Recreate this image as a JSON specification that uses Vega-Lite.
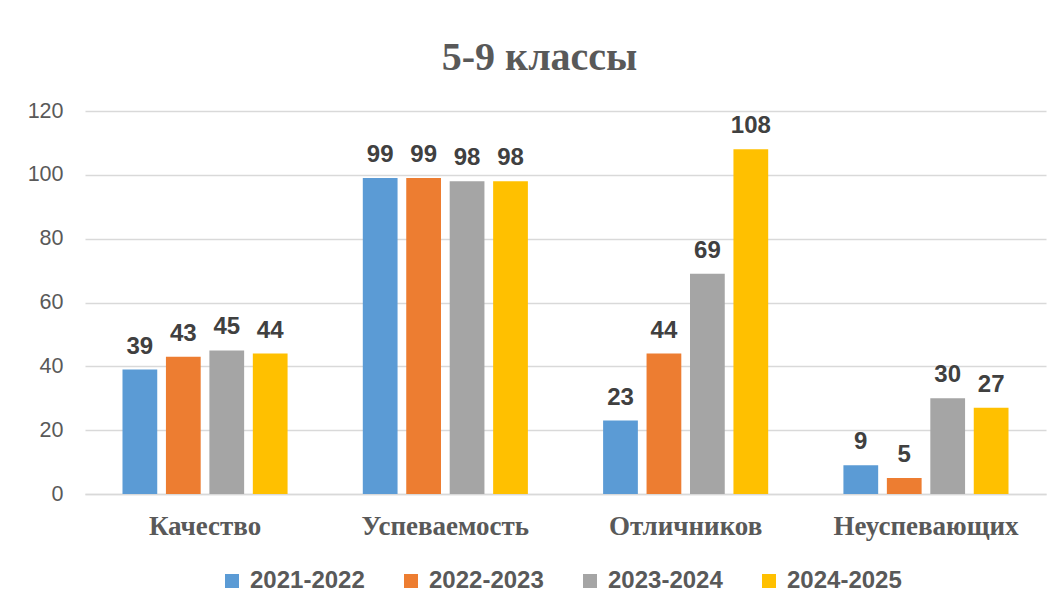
{
  "$schema": "https://vega.github.io/schema/vega-lite/v6.json",
  "width": 961,
  "height": 383,
  "autosize": "none",
  "padding": {"left": 85, "top": 111, "right": 17, "bottom": 118},
  "background": "white",
  "title": {
    "text": "5-9 классы",
    "font": "Liberation Serif",
    "fontSize": 40,
    "fontWeight": "bold",
    "color": "#595959",
    "anchor": "middle",
    "frame": "bounds",
    "baseline": "alphabetic",
    "offset": -10,
    "dx": 3
  },
  "data": {
    "values": [
      {"category": "Качество", "year": "2021-2022", "value": 39},
      {"category": "Качество", "year": "2022-2023", "value": 43},
      {"category": "Качество", "year": "2023-2024", "value": 45},
      {"category": "Качество", "year": "2024-2025", "value": 44},
      {"category": "Успеваемость", "year": "2021-2022", "value": 99},
      {"category": "Успеваемость", "year": "2022-2023", "value": 99},
      {"category": "Успеваемость", "year": "2023-2024", "value": 98},
      {"category": "Успеваемость", "year": "2024-2025", "value": 98},
      {"category": "Отличников", "year": "2021-2022", "value": 23},
      {"category": "Отличников", "year": "2022-2023", "value": 44},
      {"category": "Отличников", "year": "2023-2024", "value": 69},
      {"category": "Отличников", "year": "2024-2025", "value": 108},
      {"category": "Неуспевающих", "year": "2021-2022", "value": 9},
      {"category": "Неуспевающих", "year": "2022-2023", "value": 5},
      {"category": "Неуспевающих", "year": "2023-2024", "value": 30},
      {"category": "Неуспевающих", "year": "2024-2025", "value": 27}
    ]
  },
  "encoding": {
    "x": {
      "field": "category",
      "type": "nominal",
      "sort": null,
      "scale": {"paddingInner": 0.313, "paddingOuter": 0.156},
      "axis": {
        "title": null,
        "labelAngle": 0,
        "labelFont": "Liberation Serif",
        "labelFontSize": 27,
        "labelFontWeight": "bold",
        "labelColor": "#595959",
        "labelPadding": 19,
        "labelLimit": 400,
        "ticks": false,
        "domainColor": "#D9D9D9",
        "domainWidth": 1.5
      }
    },
    "xOffset": {
      "field": "year",
      "type": "nominal",
      "sort": null,
      "scale": {"paddingInner": 0.2, "paddingOuter": 0}
    },
    "y": {
      "field": "value",
      "type": "quantitative",
      "scale": {"domain": [0, 120], "nice": false},
      "axis": {
        "title": null,
        "values": [0, 20, 40, 60, 80, 100, 120],
        "labelFont": "Liberation Sans",
        "labelFontSize": 21.5,
        "labelColor": "#595959",
        "labelPadding": 22,
        "ticks": false,
        "domain": false,
        "gridColor": "#D9D9D9",
        "gridWidth": 1.5
      }
    }
  },
  "layer": [
    {
      "mark": {"type": "bar"},
      "encoding": {
        "color": {
          "field": "year",
          "type": "nominal",
          "scale": {
            "domain": ["2021-2022", "2022-2023", "2023-2024", "2024-2025"],
            "range": ["#5B9BD5", "#ED7D31", "#A5A5A5", "#FFC000"]
          },
          "legend": {
            "title": null,
            "orient": "none",
            "legendX": 135,
            "legendY": 458,
            "direction": "horizontal",
            "columns": 4,
            "symbolType": "square",
            "symbolSize": 196,
            "symbolStrokeWidth": 0,
            "labelFont": "Liberation Sans",
            "labelFontSize": 24,
            "labelFontWeight": "bold",
            "labelColor": "#595959",
            "labelOffset": 6,
            "columnPadding": 34,
            "padding": 0
          }
        }
      }
    },
    {
      "mark": {
        "type": "text",
        "baseline": "alphabetic",
        "dy": -16,
        "font": "Liberation Sans",
        "fontSize": 24,
        "fontWeight": "bold",
        "color": "#404040"
      },
      "encoding": {
        "text": {"field": "value", "type": "quantitative"}
      }
    }
  ],
  "config": {
    "view": {"stroke": null}
  }
}
